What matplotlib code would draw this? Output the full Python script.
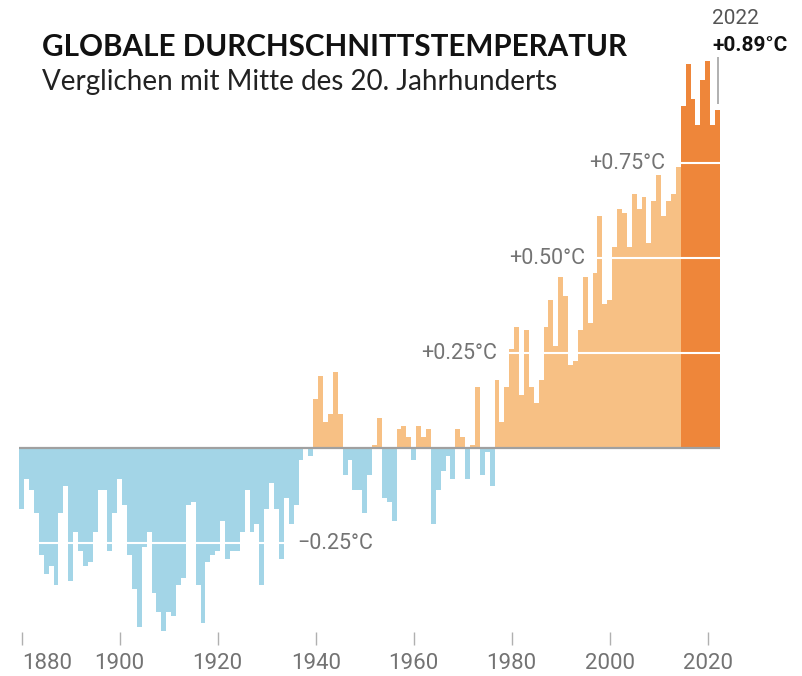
import numpy as np
import matplotlib
matplotlib.use("Agg")
import matplotlib.pyplot as plt

# Jahresanomalien (°C)
years = list(range(1880, 2023))
anomaly = [
    -0.16, -0.08, -0.11, -0.17, -0.28, -0.33, -0.31, -0.36, -0.17, -0.10,   # 1880-1889
    -0.35, -0.22, -0.27, -0.31, -0.30, -0.22, -0.11, -0.11, -0.27, -0.17,   # 1890-1899
    -0.08, -0.15, -0.28, -0.37, -0.47, -0.26, -0.22, -0.38, -0.43, -0.48,   # 1900-1909
    -0.43, -0.44, -0.36, -0.34, -0.15, -0.14, -0.36, -0.46, -0.30, -0.28,   # 1910-1919
    -0.27, -0.19, -0.29, -0.27, -0.27, -0.22, -0.11, -0.22, -0.20, -0.36,   # 1920-1929
    -0.16, -0.09, -0.16, -0.29, -0.13, -0.20, -0.15, -0.03, 0.00, -0.02,    # 1930-1939
    0.13, 0.19, 0.07, 0.09, 0.20, 0.09, -0.07, -0.03, -0.11, -0.11,         # 1940-1949
    -0.17, -0.07, 0.01, 0.08, -0.13, -0.14, -0.19, 0.05, 0.06, 0.03,        # 1950-1959
    -0.03, 0.06, 0.03, 0.05, -0.20, -0.11, -0.06, -0.02, -0.08, 0.05,       # 1960-1969
    0.03, -0.08, 0.01, 0.16, -0.07, -0.01, -0.10, 0.18, 0.07, 0.16,         # 1970-1979
    0.26, 0.32, 0.14, 0.31, 0.16, 0.12, 0.18, 0.32, 0.39, 0.27,             # 1980-1989
    0.45, 0.40, 0.22, 0.23, 0.31, 0.45, 0.33, 0.46, 0.61, 0.38,             # 1990-1999
    0.39, 0.53, 0.63, 0.62, 0.53, 0.67, 0.63, 0.66, 0.54, 0.65,             # 2000-2009
    0.72, 0.61, 0.65, 0.67, 0.74, 0.90, 1.01, 0.92, 0.85, 0.97,             # 2010-2019
    1.02, 0.85, 0.89,                                                       # 2020-2022
]
tick_years = list(range(1880, 2021, 20))
grid_levels = [-0.25, 0.25, 0.50, 0.75]
grid_labels = ["\u22120.25°C", "+0.25°C", "+0.50°C", "+0.75°C"]
# x-Position der Beschriftung (Jahr) und Ausrichtung
grid_label_x = [1936.2, 1977.0, 1995.0, 2011.3]
grid_label_ha = ["left", "right", "right", "right"]

BLUE = "#a3d5e7"
ORANGE = "#f7c084"
DARK = "#ee863a"
GREY = "#737373"
FONT = ["Roboto", "DejaVu Sans"]

colors = []
for y, v in zip(years, anomaly):
    if v < 0:
        colors.append(BLUE)
    elif y >= 2015:
        colors.append(DARK)
    else:
        colors.append(ORANGE)

fig = plt.figure(figsize=(8.03, 6.76), dpi=100)
ax = fig.add_axes([0, 44 / 676, 1, 632 / 676])
ax.set_xlim(1875.571, 2039.449)
ax.set_ylim(-0.4834, 1.1797)

ax.bar(years, anomaly, width=1.0, color=colors, linewidth=0, antialiased=False, zorder=2)

for lvl in grid_levels:
    ax.hlines(lvl, 1879.5, 2022.5, color="white", lw=1.5, zorder=3)
ax.hlines(0, 1879.5, 2022.5, color="#a0a0a0", lw=1.6, zorder=4)

lab_font = dict(family=FONT, weight="normal", fontsize=15.5, color=GREY)
for lvl, lab, lx, ha in zip(grid_levels, grid_labels, grid_label_x, grid_label_ha):
    ax.text(lx, lvl, lab, ha=ha, va="center", zorder=5, **lab_font)

# 2022 Markierung
ax.vlines(2022.15, anomaly[-1] + 0.015, 1.03, color="#aaaaaa", lw=1.3, zorder=5)
ax.text(2020.9, 1.132, "2022", ha="left", va="center",
        family=FONT, weight="normal", fontsize=15, color="#555555")
ax.text(2020.9, 1.061, "+0.89°C", ha="left", va="center",
        family=FONT, weight="bold", fontsize=15, color="#111111")

ax.set_xticks(tick_years)
ax.set_xticklabels([str(t) for t in tick_years])
ax.tick_params(axis="x", length=9.4, width=1.0, color="#b0b0b0", pad=6,
               labelsize=16, labelcolor=GREY)
for t in ax.get_xticklabels():
    t.set_fontfamily(FONT)
ax.get_xticklabels()[0].set_ha("left")
ax.set_yticks([])
for s in ax.spines.values():
    s.set_visible(False)
ax.patch.set_alpha(0)

fig.text(42 / 803, 1 - 47 / 676, "GLOBALE DURCHSCHNITTSTEMPERATUR", ha="left", va="center",
         family=["Lato", "DejaVu Sans"], weight="bold", fontsize=21.3, color="#111111")
fig.text(42 / 803, 1 - 82 / 676, "Verglichen mit Mitte des 20. Jahrhunderts", ha="left", va="center",
         family=["Lato", "DejaVu Sans"], fontsize=20, color="#222222")

fig.savefig("out.png", dpi=100)
